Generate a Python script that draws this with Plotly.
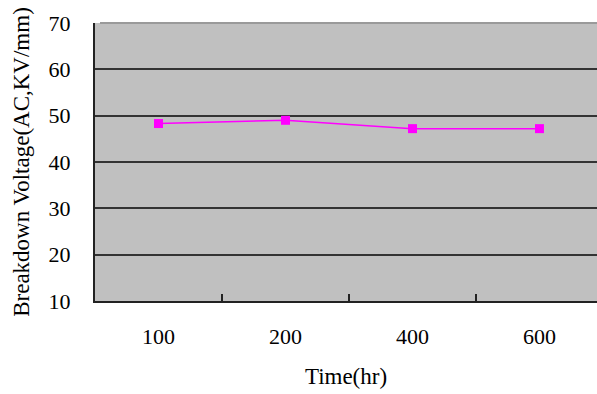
import plotly.graph_objects as go

time_hr = ["100", "200", "400", "600"]
breakdown_voltage = [48.3, 49.0, 47.2, 47.2]
y_ticks = [10, 20, 30, 40, 50, 60, 70]

FONT = "Liberation Serif"

fig = go.Figure()
fig.add_trace(go.Scatter(
    x=time_hr, y=breakdown_voltage, mode="lines+markers",
    line=dict(color="#FF00FF", width=1.5),
    marker=dict(symbol="square", size=9, color="#FF00FF"),
    showlegend=False,
))

fig.add_shape(type="line", xref="paper", yref="paper", x0=0.01, x1=1, y0=1, y1=1,
              line=dict(color="#9A9A9A", width=2), layer="above")

fig.update_layout(
    width=597, height=394,
    margin=dict(l=95, r=0, t=23, b=93),
    paper_bgcolor="white",
    plot_bgcolor="#C0C0C0",
    font=dict(family=FONT, size=22, color="black"),
    xaxis=dict(
        type="category",
        range=[-0.5, 3.453],
        showgrid=False,
        ticks="inside", tickson="boundaries", ticklen=7, tickwidth=1.5, tickcolor="#222",
        showline=True, linecolor="#222", linewidth=2,
        ticklabelstandoff=15,
        title=dict(text="Time(hr)", font=dict(family=FONT, size=23), standoff=19),
        zeroline=False,
    ),
    yaxis=dict(
        range=[10, 70],
        tickvals=y_ticks,
        showgrid=True, gridcolor="#333", gridwidth=2,
        showline=True, linecolor="#222", linewidth=2,
        ticks="", ticklabelstandoff=18,
        title=dict(text="Breakdown Voltage(AC,KV/mm)", font=dict(family=FONT, size=23), standoff=13),
        zeroline=False,
    ),
)

fig.write_html("out.html")
